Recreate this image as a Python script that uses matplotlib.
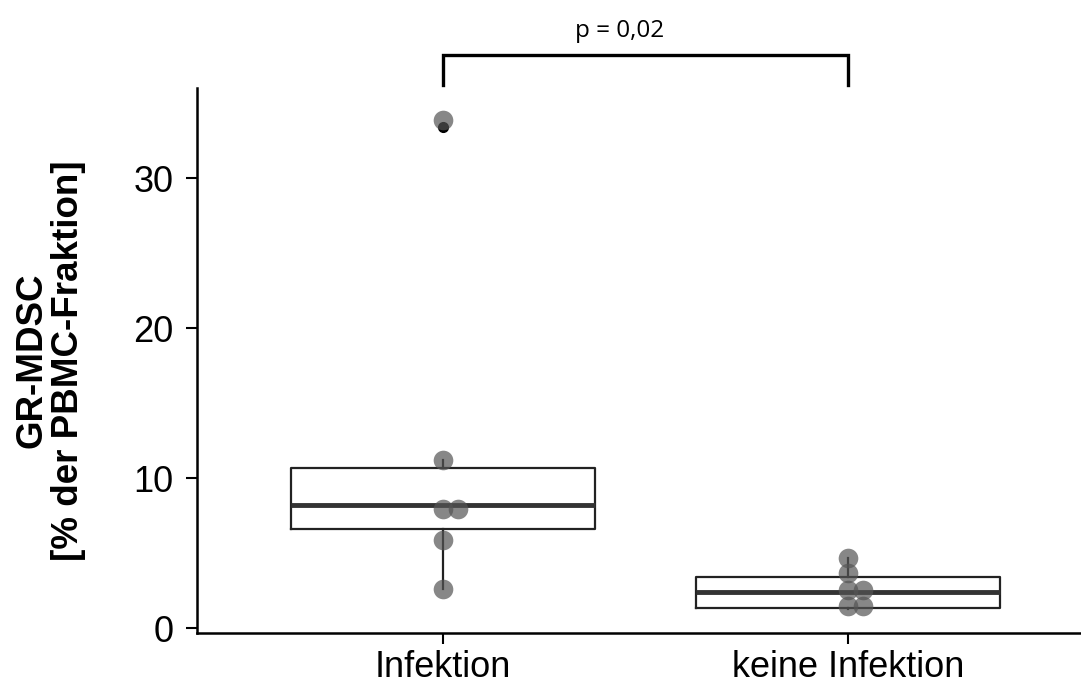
import numpy as np
import matplotlib
matplotlib.use("Agg")
from matplotlib import pyplot as plt

# groups and box statistics
groups      = ["Infektion", "keine Infektion"]
q1          = [6.6, 1.35]
medians     = [8.2, 2.4]
q3          = [10.7, 3.4]
whiskerLow  = [2.6, 1.3]
whiskerHigh = [11.2, 4.7]
outliers    = [[33.4], []]

# individual (jittered) points
infektionValues  = [33.9, 11.2, 7.95, 7.95, 5.85, 2.6]
infektionOffsets = [0.0, 0.0, 0.0, 0.037, 0.0, 0.0]
keineValues      = [4.7, 3.7, 2.55, 2.55, 1.5, 1.5]
keineOffsets     = [0.0, 0.0, 0.0, 0.037, 0.0, 0.037]

pText = "p = 0,02"

plt.rcParams['font.family'] = ['Liberation Sans', 'DejaVu Sans']

fig = plt.figure(figsize=(10.81, 6.84), dpi=100)
ax = fig.add_axes([197/1081, (684-633)/684, (1081-197)/1081, (633-88)/684])

positions = [1, 2]
stats = []
for i in range(len(groups)):
    stats.append(dict(med=medians[i], q1=q1[i], q3=q3[i],
                      whislo=whiskerLow[i], whishi=whiskerHigh[i],
                      fliers=outliers[i], label=groups[i]))

ax.bxp(stats, positions=positions, widths=0.75, showfliers=True,
       boxprops=dict(color="#222222", linewidth=1.6),
       whiskerprops=dict(color="#222222", linewidth=1.6),
       capprops=dict(linewidth=0),
       medianprops=dict(color="#333333", linewidth=3.5),
       flierprops=dict(marker="o", markerfacecolor="black", markeredgecolor="black",
                       markersize=7))

ax.scatter(1 + np.array(infektionOffsets), infektionValues, s=200,
           color="#555555", alpha=0.7, linewidths=0, zorder=3)
ax.scatter(2 + np.array(keineOffsets), keineValues, s=200,
           color="#555555", alpha=0.7, linewidths=0, zorder=3)

# significance bracket
ax.plot([1, 1, 2, 2], [36.2, 38.2, 38.2, 36.2], color="black", lw=2.4,
        clip_on=False, solid_joinstyle="miter")
ax.text(1.435, 39.0, pText, ha="center", va="bottom", fontsize=17.5,
        family=["Open Sans", "DejaVu Sans"])

ax.set_xlim(0.393, 2.575)
ax.set_ylim(-0.33, 36)
ax.set_xticks(positions)
ax.set_xticklabels(groups)
ax.set_yticks([0, 10, 20, 30])
ax.tick_params(axis="both", labelsize=26, length=8, width=1.5, colors="black")
ax.tick_params(axis="y", pad=9)
ax.tick_params(axis="x", pad=4)

for side in ["top", "right"]:
    ax.spines[side].set_visible(False)
for side in ["left", "bottom"]:
    ax.spines[side].set_linewidth(1.8)

ax.set_ylabel("GR-MDSC\n[% der PBMC-Fraktion]", fontsize=26.5, fontweight="bold",
              linespacing=1.05, labelpad=34)

plt.savefig("out.png", dpi=100)
